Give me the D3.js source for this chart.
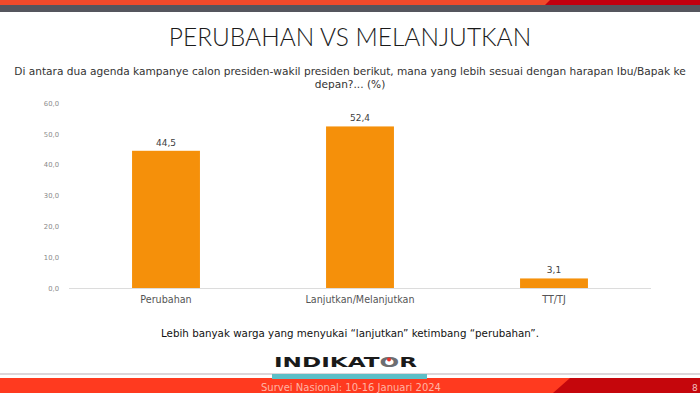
<!DOCTYPE html>
<html>
<head>
<meta charset="utf-8">
<script src="https://cdn.jsdelivr.net/npm/d3@7"></script>
<style>
  html, body { margin: 0; padding: 0; background: #fff; }
  svg { display: block; }
</style>
</head>
<body>
<div id="chart"></div>
<script>
// data
const categories = ['Perubahan', 'Lanjutkan/Melanjutkan', 'TT/TJ'];
const values = [44.5, 52.4, 3.1];
const yTicks = [0, 10, 20, 30, 40, 50, 60];

const W = 700, H = 393;
const svg = d3.select('#chart').append('svg')
    .attr('width', W)
    .attr('height', H);

const fmt = d => d3.format('.1f')(d).replace('.', ',');

// top header strip
svg.append('rect').attr('x', 0).attr('y', 0).attr('width', W).attr('height', 12).attr('fill', '#55565e');
svg.append('rect').attr('x', 0).attr('y', 0).attr('width', W).attr('height', 5).attr('fill', '#f04a2b');
svg.append('polygon').attr('points', '545,5 550,0 700,0 700,5').attr('fill', '#c2000f');

// footer strip
svg.append('rect').attr('x', 0).attr('y', 373).attr('width', W).attr('height', 2).attr('fill', '#dcd6da');
svg.append('rect').attr('x', 0).attr('y', 378).attr('width', W).attr('height', 15).attr('fill', '#ff3a1f');
svg.append('polygon').attr('points', '553,393 570,378 700,378 700,393').attr('fill', '#c5060c');

// title
svg.append('text')
    .attr('x', 350).attr('y', 46)
    .attr('text-anchor', 'middle')
    .style('font-family', 'Lato, sans-serif')
    .style('font-weight', '300')
    .style('font-size', '24.5px')
    .style('fill', '#1a1a1a')
    .text('PERUBAHAN VS MELANJUTKAN');

// question
const q = svg.append('text')
    .attr('text-anchor', 'middle')
    .style('font-family', '"DejaVu Sans", sans-serif')
    .style('font-size', '10.6px')
    .style('fill', '#333');
q.append('tspan').attr('x', 350).attr('y', 75)
    .text('Di antara dua agenda kampanye calon presiden-wakil presiden berikut, mana yang lebih sesuai dengan harapan Ibu/Bapak ke');
q.append('tspan').attr('x', 350).attr('y', 88)
    .text('depan?... (%)');

// scales
const x = d3.scaleBand()
    .domain(categories)
    .range([69, 651])
    .paddingInner(0.65)
    .paddingOuter(0.325);

const y = d3.scaleLinear()
    .domain([0, 60])
    .range([288, 103]);

// y axis labels
const yAxis = svg.append('g')
    .attr('transform', 'translate(59,0)')
    .style('color', '#8a8a8a')
    .call(d3.axisLeft(y).tickValues(yTicks).tickSize(0).tickFormat(fmt));
yAxis.select('.domain').remove();
yAxis.selectAll('text')
    .attr('x', 0)
    .style('font-family', '"DejaVu Sans", sans-serif')
    .style('font-size', '6.8px')
    .style('fill', '#8a8a8a');

// bars
svg.selectAll('.bar')
    .data(values)
    .enter().append('rect')
    .attr('class', 'bar')
    .attr('x', (d, i) => x(categories[i]))
    .attr('width', x.bandwidth())
    .attr('y', d => y(d))
    .attr('height', d => y(0) - y(d))
    .attr('fill', '#f5900a');

// x axis baseline
svg.append('line')
    .attr('x1', 69).attr('x2', 651)
    .attr('y1', y(0) + 0.5).attr('y2', y(0) + 0.5)
    .attr('stroke', '#dcdcdc')
    .attr('stroke-width', 1);

// value labels
svg.selectAll('.val')
    .data(values)
    .enter().append('text')
    .attr('class', 'val')
    .attr('x', (d, i) => x(categories[i]) + x.bandwidth() / 2)
    .attr('y', d => y(d) - 5)
    .attr('text-anchor', 'middle')
    .style('font-family', '"DejaVu Sans", sans-serif')
    .style('font-size', '9px')
    .style('fill', '#404040')
    .text(fmt);

// category labels
svg.selectAll('.cat')
    .data(categories)
    .enter().append('text')
    .attr('class', 'cat')
    .attr('x', d => x(d) + x.bandwidth() / 2)
    .attr('y', 303)
    .attr('text-anchor', 'middle')
    .style('font-family', '"DejaVu Sans", sans-serif')
    .style('font-size', '9.6px')
    .style('fill', '#555')
    .text(d => d);

// note
svg.append('text')
    .attr('x', 350).attr('y', 337)
    .attr('text-anchor', 'middle')
    .style('font-family', '"DejaVu Sans", sans-serif')
    .style('font-size', '10.3px')
    .style('fill', '#111')
    .text('Lebih banyak warga yang menyukai \u201clanjutkan\u201d ketimbang \u201cperubahan\u201d.');

// logo
svg.append('rect').attr('x', 272).attr('y', 374).attr('width', 155).attr('height', 5).attr('fill', '#5cbfc7');
const logo = svg.append('text')
    .attr('x', 274).attr('y', 367)
    .attr('textLength', 143)
    .attr('lengthAdjust', 'spacingAndGlyphs')
    .style('font-family', '"DejaVu Sans", sans-serif')
    .style('font-weight', 'bold')
    .style('font-size', '14px')
    .style('fill', '#1a1a1a');
logo.append('tspan').text('INDIKAT');
logo.append('tspan').style('fill', '#6d6e72').text('O');
logo.append('tspan').text('R');
// red mark on the "O"
svg.append('circle').attr('cx', 389).attr('cy', 359.5).attr('r', 2).attr('fill', '#e8322a');

// footer text
svg.append('text')
    .attr('x', 261).attr('y', 391)
    .style('font-family', '"DejaVu Sans", sans-serif')
    .style('font-size', '10px')
    .style('fill', '#ffb4a4')
    .text('Survei Nasional: 10-16 Januari 2024');
svg.append('text')
    .attr('x', 692).attr('y', 391)
    .style('font-family', '"DejaVu Sans", sans-serif')
    .style('font-size', '9px')
    .style('fill', '#f3c0c0')
    .text('8');
</script>
</body>
</html>
